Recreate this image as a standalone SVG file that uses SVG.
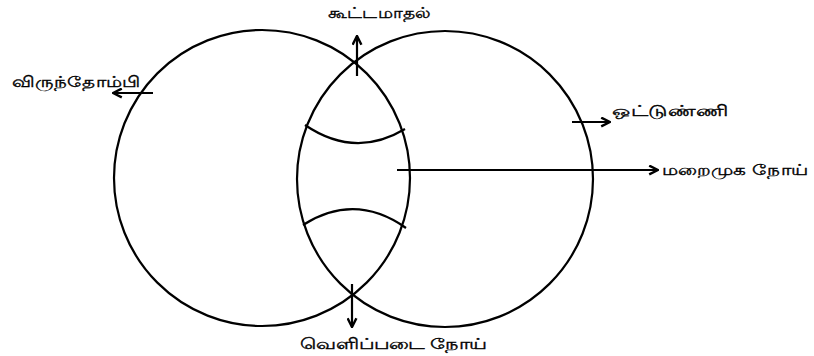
<svg xmlns="http://www.w3.org/2000/svg" width="814" height="356" viewBox="0 0 814 356">
<style>
.c{fill:none;stroke:#000;stroke-width:2.2}
.a{fill:none;stroke:#000;stroke-width:2.2}
text{font-family:"Noto Sans","DejaVu Sans",sans-serif;font-size:15px;fill:#000;stroke:#000;stroke-width:0.35}
</style>
<defs>
<marker id="ah" viewBox="0 0 10 10" refX="9" refY="5" markerWidth="11" markerHeight="11" markerUnits="userSpaceOnUse" orient="auto">
<path d="M1,1 L9,5 L1,9" fill="none" stroke="#000" stroke-width="2.2"/>
</marker>
</defs>
<rect width="814" height="356" fill="#fff"/>
<g id="left-circle"><circle class="c" cx="262" cy="178" r="148"/></g>
<g id="right-circle"><circle class="c" cx="445" cy="179" r="148"/></g>
<g id="inner-arcs">
<path class="c" d="M305,125 Q355,159 405,129"/>
<path class="c" d="M303,225 Q355,192 406,228"/>
</g>
<g id="connectors">
<line class="a" x1="357" y1="76" x2="357" y2="36" marker-end="url(#ah)"/>
<line class="a" x1="352" y1="284" x2="352" y2="327" marker-end="url(#ah)"/>
<line class="a" x1="153" y1="93" x2="113" y2="93" marker-end="url(#ah)"/>
<line class="a" x1="572" y1="122" x2="610" y2="122" marker-end="url(#ah)"/>
<line class="a" x1="397" y1="170" x2="658" y2="170" marker-end="url(#ah)"/>
</g>
<g id="labels">
<text id="t1" transform="translate(12,87) scale(1.33,1)">விருந்தோம்பி</text>
<text id="t2" transform="translate(328,18) scale(1.25,1)">கூட்டமாதல்</text>
<text id="t3" transform="translate(612,116) scale(1.45,1)">ஒட்டுண்ணி</text>
<text id="t4" transform="translate(662,175) scale(1.34,1)">மறைமுக நோய்</text>
<text id="t5" transform="translate(300,349) scale(1.4,1)">வெளிப்படை நோய்</text>
</g>
</svg>
